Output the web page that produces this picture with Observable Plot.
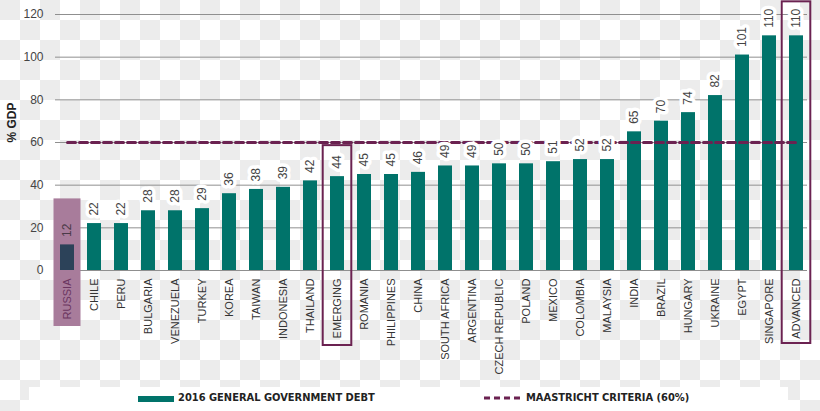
<!DOCTYPE html>
<html>
<head>
<meta charset="utf-8">
<script src="https://cdn.jsdelivr.net/npm/d3@7"></script>
<script src="https://cdn.jsdelivr.net/npm/@observablehq/plot@0.6"></script>
<style>
html, body { margin: 0; padding: 0; }
body {
  width: 820px; height: 411px; overflow: hidden; position: relative;
  background: repeating-conic-gradient(#fff 0 25%, #ececec 0 50%) 0 0 / 40px 40px;
  font-family: "Liberation Sans", Arial, sans-serif;
}
#chart { position: absolute; left: 0; top: 0; }
#chart svg { display: block; }
#legend { position: absolute; left: 0; top: 385px; width: 820px; height: 26px; }
#legend .band { position: absolute; left: 29px; top: 2px; width: 759px; height: 24px; background: #fff; }
#legend .item { position: absolute; top: 5px; height: 16px; line-height: 16px; font-size: 11px; font-weight: bold;
  font-family: "Liberation Sans Narrow", "DejaVu Sans Condensed", "Liberation Sans", sans-serif; font-stretch: condensed; color: #222; white-space: nowrap; }
#legend .sw { position: absolute; }
</style>
</head>
<body>
<div id="chart"></div>
<div id="legend">
  <div class="band"></div>
  <div class="sw" style="left:138px;top:11px;width:36px;height:6px;background:#00736a"></div>
  <div class="item" style="left:178px">2016 GENERAL GOVERNMENT DEBT</div>
  <svg class="sw" style="left:484px;top:10px" width="40" height="6"><line x1="0" y1="3" x2="40" y2="3" stroke="#6b2251" stroke-width="3" stroke-dasharray="6,4"/></svg>
  <div class="item" style="left:526px">MAASTRICHT CRITERIA (60%)</div>
</div>
<script>
const categories = ["RUSSIA","CHILE","PERU","BULGARIA","VENEZUELA","TURKEY","KOREA","TAIWAN","INDONESIA","THAILAND","EMERGING","ROMANIA","PHILIPPINES","CHINA","SOUTH AFRICA","ARGENTINA","CZECH REPUBLIC","POLAND","MEXICO","COLOMBIA","MALAYSIA","INDIA","BRAZIL","HUNGARY","UKRAINE","EGYPT","SINGAPORE","ADVANCED"];
const debt = [12,22,22,28,28,29,36,38,39,42,44,45,45,46,49,49,50,50,51,52,52,65,70,74,82,101,110,110];
const yTicks = [0,20,40,60,80,100,120];
const maastricht = 60;
const focusCountry = "RUSSIA";
const aggregates = ["EMERGING","ADVANCED"];

const data = categories.map((c, i) => ({country: c, debt: debt[i]}));
const focus = data.filter(d => d.country === focusCountry);
const others = data.filter(d => d.country !== focusCountry);
const emerging = data.filter(d => d.country === aggregates[0]);
const advanced = data.filter(d => d.country === aggregates[1]);

const chart = Plot.plot({
  width: 820,
  height: 385,
  marginLeft: 55,
  marginRight: 13,
  marginTop: 14,
  marginBottom: 115,
  style: {background: "transparent", fontFamily: "'Liberation Sans', Arial, sans-serif", fontSize: "12px", color: "#444"},
  x: {domain: categories, paddingInner: 0.5, paddingOuter: 0, axis: null},
  y: {domain: [0, 120], ticks: yTicks, tickSize: 0, tickPadding: 12, label: null},
  marks: [
    Plot.ruleY(yTicks, {stroke: "#8f8f8f", strokeWidth: 1}),
    Plot.text(["% GDP"], {frameAnchor: "left", dx: -43, rotate: -90, fontWeight: "bold", fontSize: 12, fill: "#222"}),
    Plot.barY(focus, {x: "country", y: "debt", fill: "#a87c9b", insetTop: -46, insetBottom: -56, insetLeft: -6.5, insetRight: -6.5}),
    Plot.barY(others, {x: "country", y: "debt", fill: "#00736a"}),
    Plot.barY(focus, {x: "country", y: "debt", fill: "#2c4259"}),
    Plot.lineY(data, {x: "country", y: () => maastricht, stroke: "#6b2251", strokeWidth: 3, strokeDasharray: "8,4"}),
    Plot.text(others, {x: "country", y: "debt", text: d => String(d.debt), rotate: -90, textAnchor: "start", lineAnchor: "middle", dy: -8, fontSize: 12, fill: "#444", stroke: "white", strokeWidth: 7}),
    Plot.text(focus, {x: "country", y: "debt", text: d => String(d.debt), rotate: -90, textAnchor: "start", lineAnchor: "middle", dy: -8, fontSize: 12, fill: "#4a3a48"}),
    Plot.barY(emerging, {x: "country", y: "debt", fill: "none", stroke: "#6b2251", strokeWidth: 2, insetTop: -31, insetBottom: -75, insetLeft: -7.3, insetRight: -7.3}),
    Plot.barY(advanced, {x: "country", y: "debt", fill: "none", stroke: "#6b2251", strokeWidth: 2, insetTop: -34, insetBottom: -73, insetLeft: -7.3, insetRight: -7.3}),
    Plot.text(others, {x: "country", frameAnchor: "bottom", text: "country", rotate: -90, textAnchor: "end", lineAnchor: "middle", dy: 8, fontSize: 11, fill: "#333"}),
    Plot.text(focus, {x: "country", frameAnchor: "bottom", text: "country", rotate: -90, textAnchor: "end", lineAnchor: "middle", dy: 8, fontSize: 11, fill: "#6b3560"})
  ]
});
document.getElementById("chart").appendChild(chart);
</script>
</body>
</html>
